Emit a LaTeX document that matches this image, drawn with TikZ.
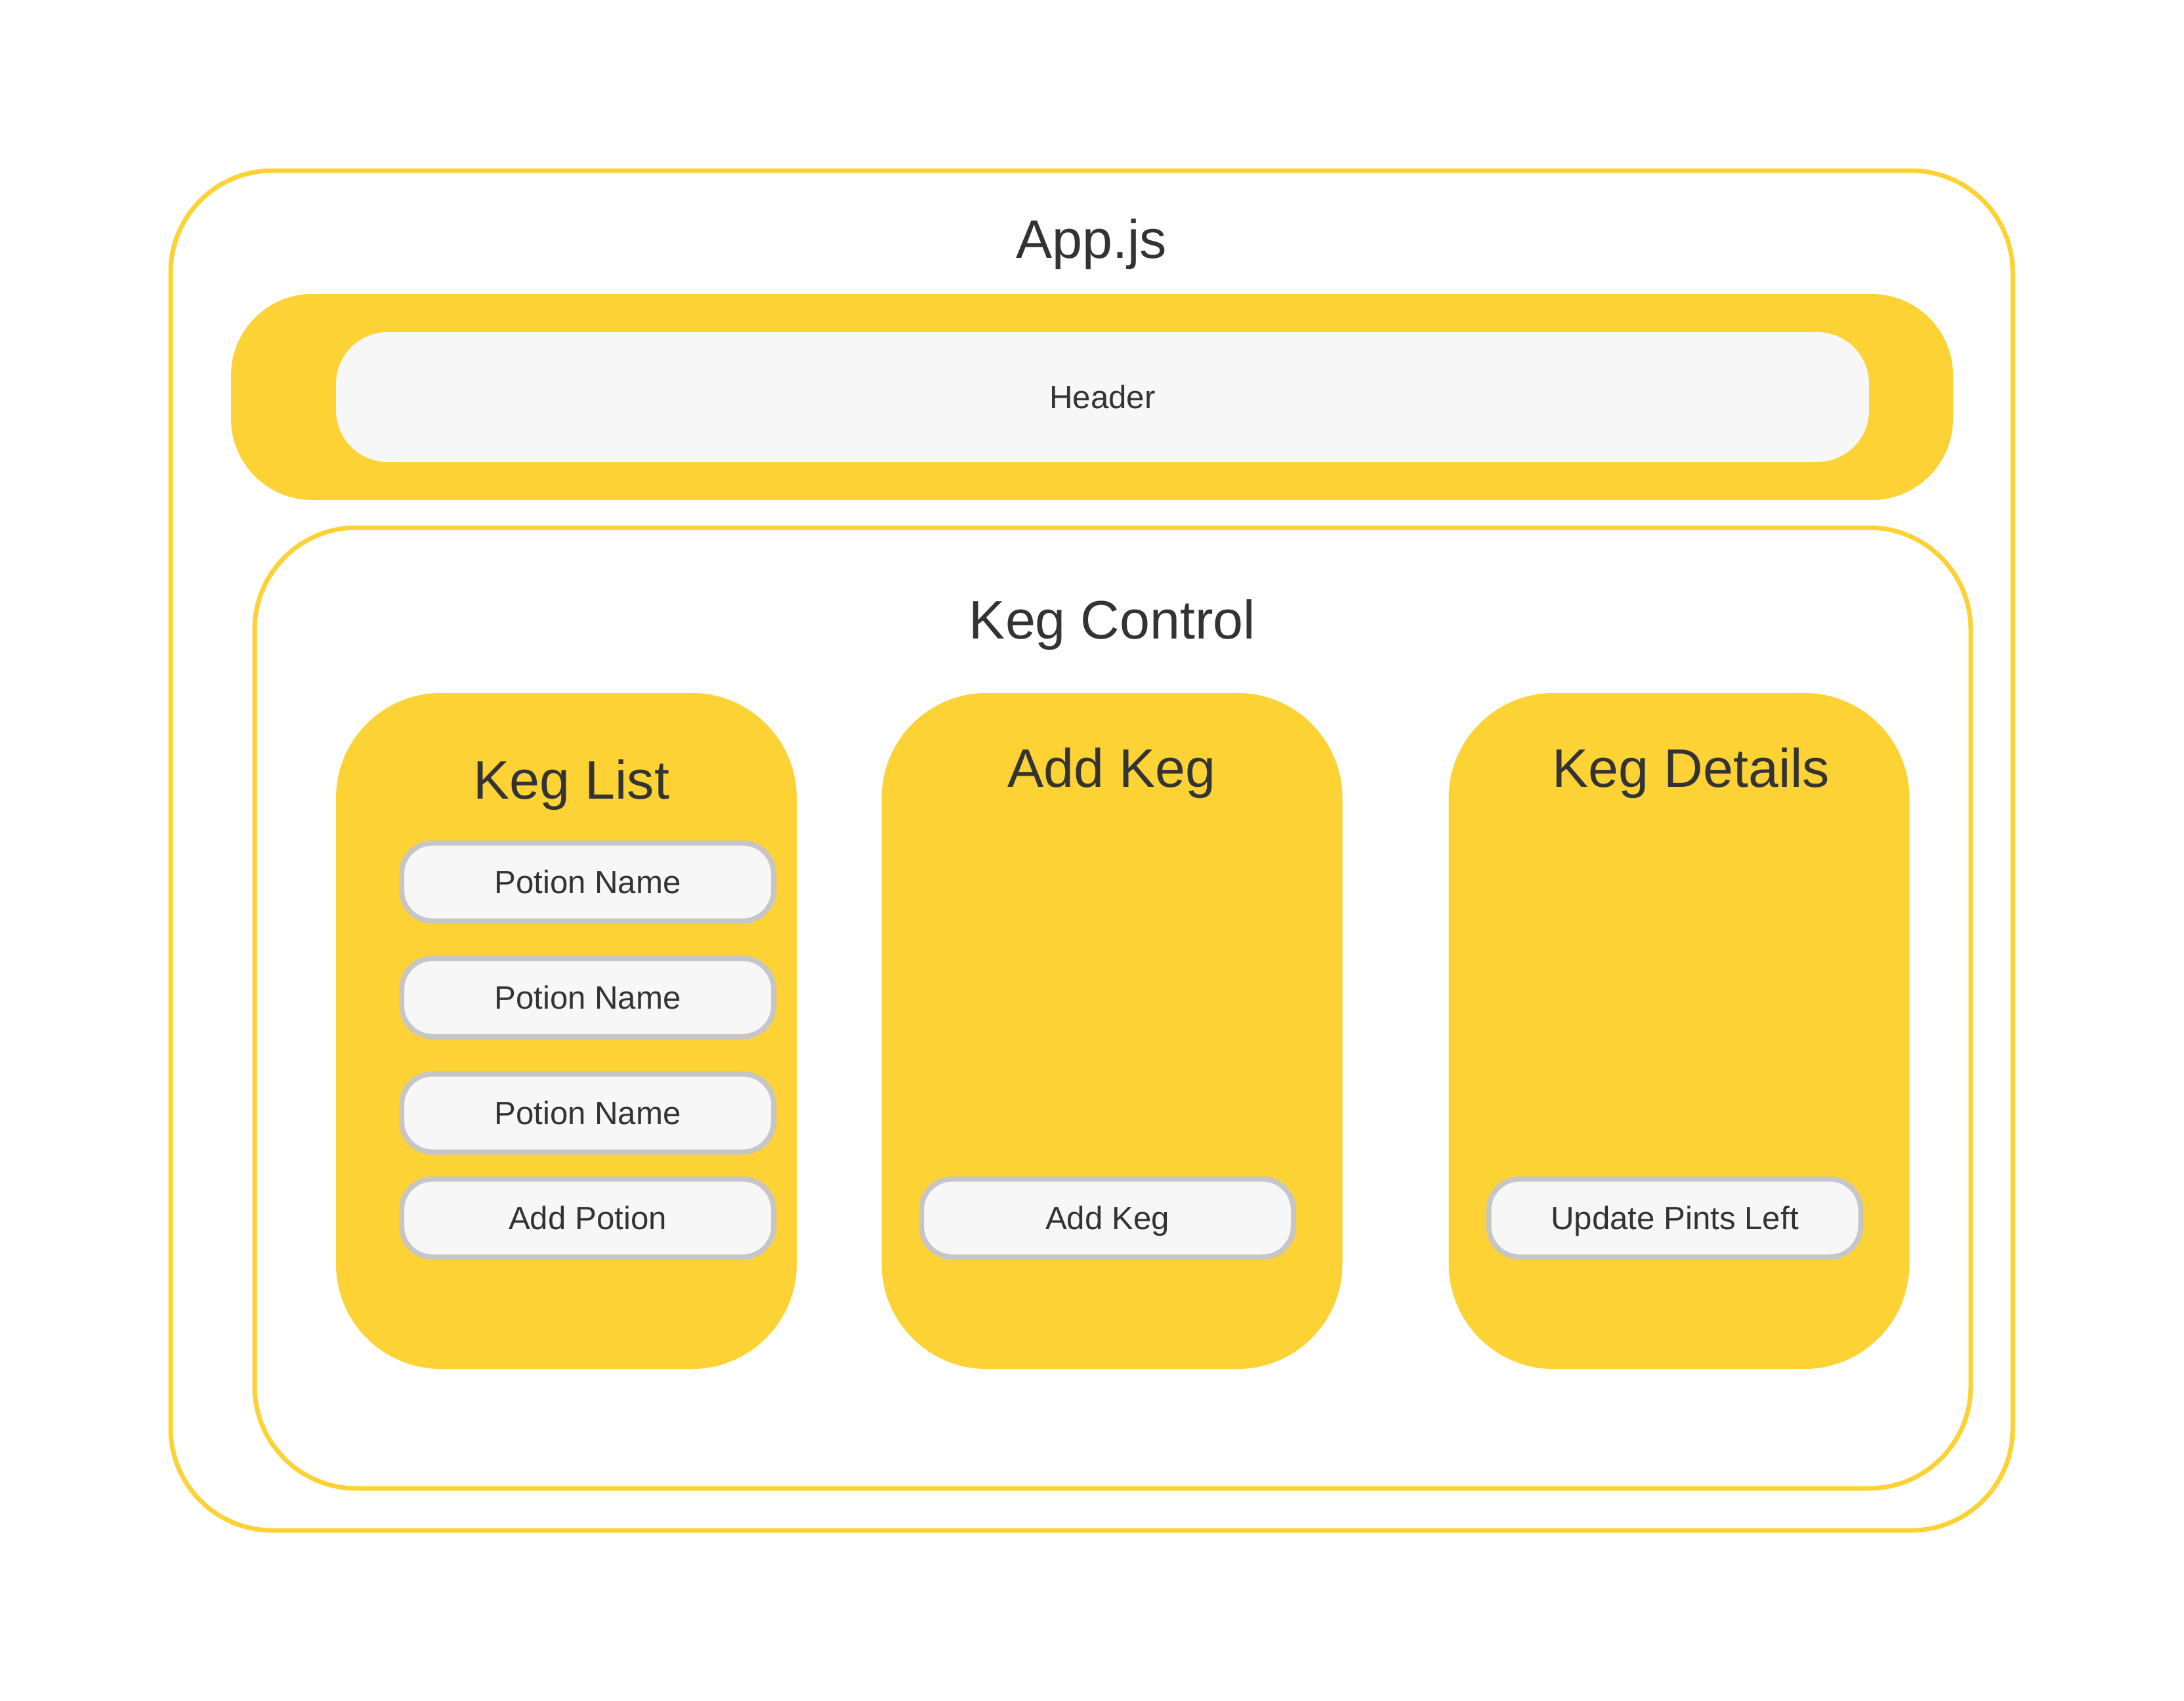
\documentclass[tikz,border=0pt]{standalone}
\usepackage{fontspec}
\setmainfont{Liberation Sans}
\definecolor{kegyellow}{HTML}{FDD235}
\definecolor{paper}{HTML}{F7F7F7}
\definecolor{rim}{HTML}{C6C6C6}
\definecolor{ink}{HTML}{333333}
\tikzset{
  frame/.style={draw=kegyellow, line width=0.07cm},
  panel/.style={fill=kegyellow, rounded corners=1.6cm, minimum width=7.02cm, minimum height=10.3cm},
  btn/.style={fill=paper, draw=rim, line width=0.08cm, rounded corners=0.47cm,
    minimum width=5.67cm, minimum height=1.19cm, text=ink, font=\fontsize{14}{16}\selectfont,
    text height=10pt, text depth=0pt},
  title/.style={anchor=base, text=ink, font=\fontsize{23.5}{28}\selectfont, inner sep=0pt}
}
\begin{document}
\begin{tikzpicture}
  \useasboundingbox[fill=white] (0,0) rectangle (33.28,-25.92);
  % outer App.js frame
  \node[frame, rounded corners=1.55cm, minimum width=28.07cm, minimum height=20.72cm] (app) at (16.635,-12.96) {};
  \node[title] (apptitle) at (16.63,-3.93) {App.js};
  % header bar
  \node[fill=kegyellow, rounded corners=1.24cm, minimum width=26.24cm, minimum height=3.14cm] (headerbar) at (16.64,-6.05) {};
  \node[fill=paper, rounded corners=0.79cm, minimum width=23.36cm, minimum height=1.98cm, text=ink,
    font=\fontsize{14}{16}\selectfont, text height=10pt, text depth=0pt] (header) at (16.80,-6.05) {Header};
  % keg control frame
  \node[frame, rounded corners=1.55cm, minimum width=26.15cm, minimum height=14.64cm] (kegctrl) at (16.955,-15.36) {};
  \node[title] (kegctrltitle) at (16.95,-9.73) {Keg Control};
  % three panels
  \node[panel] (keglist) at (8.63,-15.71) {};
  \node[panel] (addkeg) at (16.945,-15.71) {};
  \node[panel] (kegdetails) at (25.585,-15.71) {};
  \node[title] (keglisttitle) at (8.71,-12.17) {Keg List};
  \node[title] (addkegtitle) at (16.94,-11.99) {Add Keg};
  \node[title] (kegdetailstitle) at (25.77,-11.99) {Keg Details};
  % buttons
  \foreach \i/\y in {1/13.44, 2/15.20, 3/16.96}
    \node[btn] (potion\i) at (8.955,-\y) {Potion Name};
  \node[btn] (addpotion) at (8.955,-18.56) {Add Potion};
  \node[btn] (addkegbtn) at (16.875,-18.56) {Add Keg};
  \node[btn] (updatepints) at (25.52,-18.56) {Update Pints Left};
\end{tikzpicture}
\end{document}
